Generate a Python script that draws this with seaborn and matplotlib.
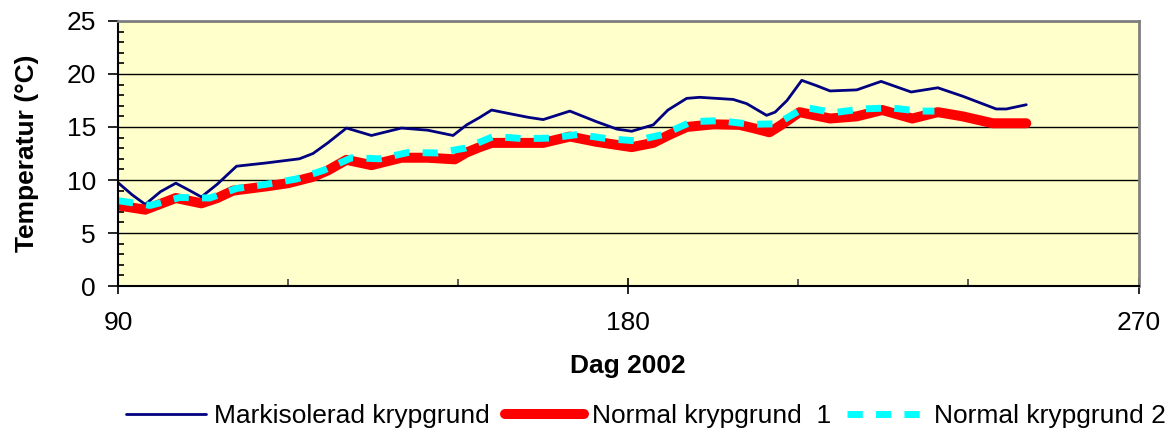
import seaborn as sns
import matplotlib.pyplot as plt
from matplotlib.ticker import MultipleLocator, FixedLocator

# Readings from the chart (day of year, temperature in deg C)
mark_day = [90, 92.5, 94.8, 97.5, 100.2, 102.5, 104.7, 107.5, 110.9, 116, 122, 124.4,
            127, 130.3, 134.7, 140, 144.6, 149.1, 151.5, 153.8, 155.9, 159.6, 162.5,
            165, 169.7, 174.4, 178, 180.6, 184.4, 187, 190.3, 192.6, 198.5, 200.9,
            204.4, 205.9, 208, 210.6, 213.2, 215.6, 220.3, 224.6, 229.9, 234.6, 239,
            244.9, 246.7, 250.2]
mark_temp = [9.75, 8.6, 7.7, 8.9, 9.7, 9.05, 8.4, 9.6, 11.3, 11.6, 12.0, 12.5,
             13.5, 14.9, 14.2, 14.9, 14.7, 14.2, 15.2, 15.9, 16.6, 16.2, 15.9,
             15.7, 16.5, 15.5, 14.8, 14.6, 15.2, 16.6, 17.7, 17.8, 17.6, 17.2,
             16.1, 16.4, 17.5, 19.4, 18.9, 18.4, 18.5, 19.3, 18.3, 18.7, 17.9,
             16.7, 16.7, 17.1]

norm1_day = [90, 94.8, 100.2, 104.7, 107.5, 110.3, 116.2, 120, 124.4, 127, 130.3,
             134.7, 140, 144.6, 149.4, 151.5, 153.8, 155.9, 160, 165, 169.7, 174.4,
             180.6, 184.4, 187, 190.3, 195, 199.6, 202, 204.9, 207, 210.2, 215.6,
             220.3, 224.8, 230.1, 234.6, 239, 244.3, 250.2]
norm1_temp = [7.6, 7.2, 8.3, 7.8, 8.3, 9.0, 9.4, 9.7, 10.3, 10.9, 11.9,
              11.4, 12.1, 12.1, 11.95, 12.6, 13.1, 13.5, 13.5, 13.5, 14.1, 13.6,
              13.1, 13.5, 14.2, 15.0, 15.25, 15.2, 14.9, 14.5, 15.2, 16.4, 15.8,
              16.0, 16.6, 15.8, 16.4, 16.0, 15.35, 15.35]

norm2_day = [90, 95.7, 100.9, 106.2, 110.9, 116.2, 121.5, 126.2, 131.2, 136.2,
             141.2, 146.4, 151.2, 156.2, 161.5, 166.2, 171.2, 176.2, 181.2, 186.2,
             191.2, 196.2, 201.5, 206.2, 211.2, 216.2, 221.2, 226.4, 231.2, 234]
norm2_temp = [8.05, 7.6, 8.35, 8.3, 9.2, 9.6, 10.1, 10.9, 12.1, 12.0,
              12.6, 12.55, 13.0, 14.1, 13.9, 13.95, 14.3, 13.9, 13.7, 14.3,
              15.5, 15.6, 15.25, 15.3, 16.85, 16.35, 16.7, 16.8, 16.5, 16.5]

labels = ["Markisolerad krypgrund", "Normal krypgrund  1", "Normal krypgrund 2"]

sns.set_theme(style="white")
plt.rcParams['font.family'] = ['Liberation Sans', 'DejaVu Sans']
plt.rcParams.update({'text.color': 'black', 'axes.labelcolor': 'black',
                     'xtick.color': 'black', 'ytick.color': 'black'})

fig = plt.figure(figsize=(11.73, 4.37), dpi=100)
ax = fig.add_axes([0.1006, 0.3455, 0.8700, 0.6065])
ax.set_facecolor('#FFFFCC')

sns.lineplot(x=mark_day, y=mark_temp, ax=ax, color='#000080', lw=2.0,
             solid_joinstyle='round', label=labels[0])
sns.lineplot(x=norm1_day, y=norm1_temp, ax=ax, color='#FF0000', lw=7.2,
             solid_capstyle='round', solid_joinstyle='round', label=labels[1])
sns.lineplot(x=norm2_day, y=norm2_temp, ax=ax, color='#00FFFF', lw=5,
             linestyle=(0, (2.2, 1.9)), dash_capstyle='butt', label=labels[2])

ax.set_xlim(90, 270)
ax.set_ylim(0, 25)
ax.xaxis.set_major_locator(FixedLocator([90, 180, 270]))
ax.xaxis.set_minor_locator(FixedLocator([120, 150, 210, 240]))
ax.yaxis.set_major_locator(MultipleLocator(5))
ax.yaxis.set_minor_locator(MultipleLocator(1))

ax.grid(axis='y', which='major', color='black', lw=1)
ax.set_axisbelow(True)

ax.tick_params(axis='x', which='major', direction='inout', length=12, width=1.2,
               color='black', labelcolor='black', labelsize=19, pad=12, bottom=True)
ax.tick_params(axis='x', which='minor', direction='in', length=5, width=1.2,
               color='#404040', bottom=True)
ax.tick_params(axis='y', which='major', direction='out', length=7, width=1.2,
               color='black', labelcolor='black', labelsize=19, pad=9, left=True)
ax.tick_params(axis='y', which='minor', direction='in', length=4, width=1.2,
               color='black', left=True)

for side in ['left', 'bottom']:
    ax.spines[side].set_color('black')
    ax.spines[side].set_linewidth(1.5)
for side in ['top', 'right']:
    ax.spines[side].set_color('#808080')
    ax.spines[side].set_linewidth(2)

ax.set_xlabel("Dag 2002", fontsize=19, fontweight='bold', labelpad=14, color='black')
ax.set_ylabel("Temperatur (°C)", fontsize=19, fontweight='bold', labelpad=20, color='black')

leg = ax.legend(loc='center', bbox_to_anchor=(0.551, 0.047), bbox_transform=fig.transFigure,
                ncol=3, frameon=False, fontsize=19, handlelength=3, handletextpad=0.3,
                columnspacing=0.6, borderpad=0)
for t in leg.get_texts():
    t.set_color('black')

fig.savefig("out.png", dpi=100)
